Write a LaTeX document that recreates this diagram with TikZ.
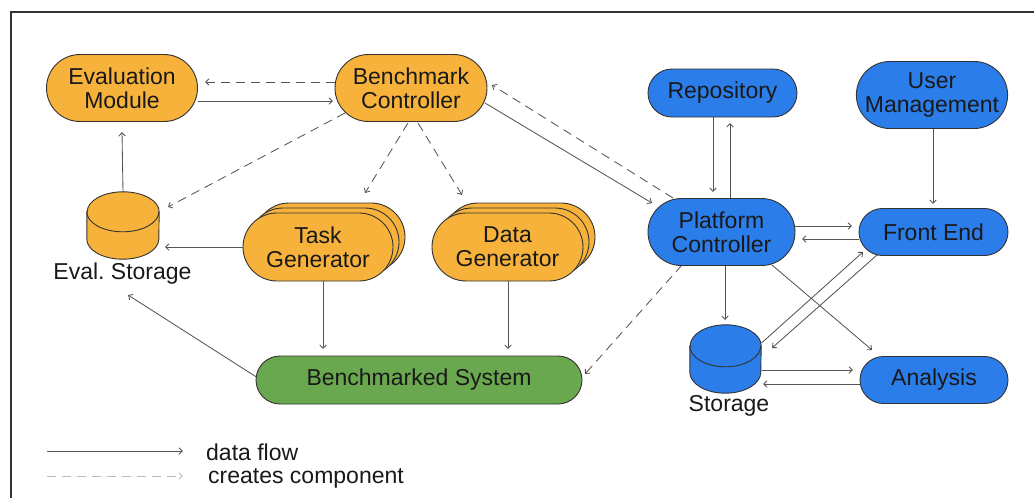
\documentclass[tikz,border=0pt]{standalone}
\usepackage{fontspec}
\setmainfont{Liberation Sans}
\usetikzlibrary{shapes.misc,arrows.meta,backgrounds}
\definecolor{orng}{HTML}{F7B23B}
\definecolor{blu}{HTML}{2B7DE9}
\definecolor{grn}{HTML}{6AA84F}
\definecolor{edgec}{HTML}{333333}
\definecolor{lnc}{HTML}{555555}
\tikzset{
 pill/.style={rounded rectangle, draw=edgec, line width=0.9pt, inner sep=0pt, align=center, font=\fontsize{23}{24}\selectfont, text=black!90},
 ob/.style={pill, fill=orng},
 bb/.style={pill, fill=blu},
 gb/.style={pill, fill=grn},
 flow/.style={draw=lnc, line width=0.85pt, -{Straight Barb[length=3.5pt,width=6.5pt]}},
 crt/.style={flow, dash pattern=on 9pt off 6pt},
 lbl/.style={font=\fontsize{23}{24}\selectfont, inner sep=0pt, text=black!90},
 cylbox/.style={minimum width=#1, inner sep=0pt},
}
\newcommand\mycyl[4]{%
 \path[draw=edgec, line width=0.9pt, fill=#2] ([yshift=-#4]#1.north west) -- ([yshift=#4]#1.south west) arc[start angle=180, end angle=360, x radius=#3, y radius=#4] -- ([yshift=-#4]#1.north east) arc[start angle=0, end angle=180, x radius=#3, y radius=#4] -- cycle;
 \draw[edgec, line width=0.9pt] ([yshift=-#4]#1.north west) arc[start angle=180, end angle=360, x radius=#3, y radius=#4];
}
\begin{document}
\begin{tikzpicture}[x=1pt,y=-1pt]
\useasboundingbox (0,0) rectangle (1034,498);
\draw[edgec, line width=1.2pt] (11,498) -- (11,12) -- (1034,12);

% orange nodes
\node[ob, minimum width=151pt, minimum height=67pt] (em) at (122,88) {Evaluation\\Module};
\node[ob, minimum width=152pt, minimum height=67pt] (bc) at (411,88) {Benchmark\\Controller};
\node[ob, minimum width=150pt, minimum height=68pt] (tgb2) at (330,237) {};
\node[ob, minimum width=150pt, minimum height=68pt] (tgb1) at (324,242) {};
\node[ob, minimum width=150pt, minimum height=68pt] (tg) at (318,247) {Task\\Generator};
\node[ob, minimum width=151pt, minimum height=68pt] (dgb2) at (519.5,237) {};
\node[ob, minimum width=151pt, minimum height=68pt] (dgb1) at (513.5,242) {};
\node[ob, minimum width=151pt, minimum height=68pt] (dg) at (507.5,247) {Data\\Generator};

% green
\node[gb, minimum width=326pt, minimum height=48pt] (bs) at (419,380) {Benchmarked System};

% blue
\node[bb, minimum width=149pt, minimum height=48pt] (repo) at (722.5,93) {Repository};
\node[bb, minimum width=150pt, minimum height=67pt] (um) at (932,95) {User\\Management};
\node[bb, minimum width=147pt, minimum height=67pt] (pc) at (721.5,232) {Platform\\Controller};
\node[bb, minimum width=149pt, minimum height=47pt] (fe) at (933.5,232) {Front End};
\node[bb, minimum width=148pt, minimum height=47pt] (an) at (934,380) {Analysis};

% cylinders
\node[cylbox=72pt, minimum height=67pt] (evs) at (123,225.5) {};
\mycyl{evs}{orng}{36pt}{20pt}
\node[cylbox=71pt, minimum height=68pt] (st) at (725.5,359) {};
\mycyl{st}{blu}{35.5pt}{21pt}
\node[lbl, anchor=base] (evsl) at (122.5,279) {Eval.\ Storage};
\node[lbl, anchor=base] (stl) at (729,411) {Storage};

% legend
\coordinate (la) at (47,451);
\coordinate (lb) at (183,451);
\coordinate (lc) at (47,476);
\coordinate (ld) at (183,476);
\draw[flow] (la) -- (lb);
\draw[crt, draw=gray!55] (lc) -- (ld);
\node[lbl, anchor=base west] (lt1) at (206,460) {data flow};
\node[lbl, anchor=base west] (lt2) at (208,483) {creates component};

\begin{pgfonlayer}{background}
\draw[crt] ([shift={(-76,-6)}]bc.center) -- ([shift={(83,-6)}]em.center);
\draw[flow] ([shift={(76,13)}]em.center) -- ([shift={(-78,13)}]bc.center);
\draw[flow] ([shift={(0,-33.5)}]evs.center) -- ([shift={(0,44)}]em.center);
\draw[crt] ([shift={(-66,25)}]bc.center) -- ([shift={(45,-18.5)}]evs.center);
\draw[crt] ([shift={(-3,35)}]bc.center) -- ([shift={(47,-54)}]tg.center);
\draw[crt] ([shift={(7,35)}]bc.center) -- ([shift={(-45.5,-52)}]dg.center);
\draw[flow] ([shift={(74,15)}]bc.center) -- ([shift={(-69.5,-29)}]pc.center);
\draw[crt] ([shift={(-48.5,-34)}]pc.center) -- ([shift={(81,-3)}]bc.center);
\draw[flow] ([shift={(-9.5,24)}]repo.center) -- ([shift={(-8.5,-40)}]pc.center);
\draw[flow] ([shift={(8.5,-34)}]pc.center) -- ([shift={(7.5,30)}]repo.center);
\draw[flow] ([shift={(1,34)}]um.center) -- ([shift={(-0.5,-28)}]fe.center);
\draw[flow] ([shift={(73.5,-6)}]pc.center) -- ([shift={(-81.5,-6)}]fe.center);
\draw[flow] ([shift={(-74.5,7)}]fe.center) -- ([shift={(80.5,7)}]pc.center);
\draw[flow] ([shift={(3.5,33)}]pc.center) -- ([shift={(-0.5,-39)}]st.center);
\draw[flow] ([shift={(50.5,33)}]pc.center) -- ([shift={(-62,-30)}]an.center);
\draw[flow] ([shift={(36,-16)}]st.center) -- ([shift={(-70.5,20)}]fe.center);
\draw[flow] ([shift={(-56.5,23)}]fe.center) -- ([shift={(46.5,-11)}]st.center);
\draw[flow] ([shift={(36.5,11)}]st.center) -- ([shift={(-81,-10)}]an.center);
\draw[flow] ([shift={(-74,4)}]an.center) -- ([shift={(37.5,25)}]st.center);
\draw[crt] ([shift={(-39.5,33)}]pc.center) -- ([shift={(166,-6)}]bs.center);
\draw[flow] ([shift={(-75,0)}]tg.center) -- ([shift={(42,21.5)}]evs.center);
\draw[flow] ([shift={(5,34)}]tg.center) -- ([shift={(-96,-31)}]bs.center);
\draw[flow] ([shift={(0.5,34)}]dg.center) -- ([shift={(89,-31)}]bs.center);
\draw[flow] ([shift={(-161,-2)}]bs.center) -- ([shift={(5,69.5)}]evs.center);
\end{pgfonlayer}
\end{tikzpicture}
\end{document}
